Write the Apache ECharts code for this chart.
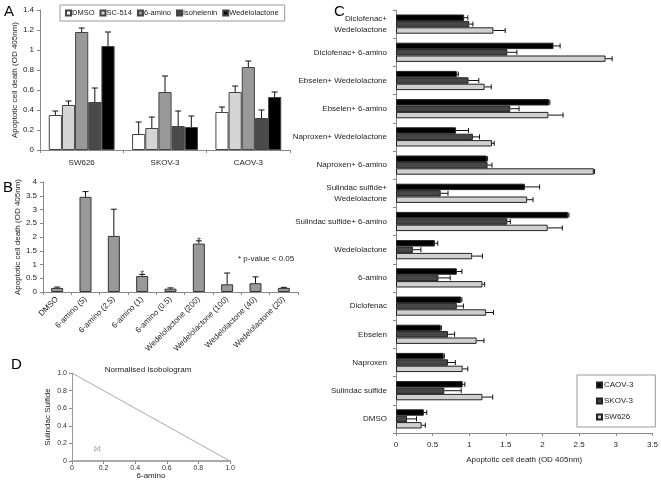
<!DOCTYPE html>
<html>
<head>
<meta charset="utf-8">
<script src="https://cdn.jsdelivr.net/npm/echarts@6/dist/echarts.min.js"></script>
<style>
  html, body { margin: 0; padding: 0; background: #fff; }
  #chart { width: 661px; height: 481px; }
</style>
</head>
<body>
<div id="chart"></div>
<script>
// ---- panel A ----
const cellLinesA = ["SW626", "SKOV-3", "CAOV-3"];
const treatA = ["DMSO", "SC-514", "6-amino", "Isohelenin", "Wedelolactone"];
const colorsA = ["#ffffff", "#d4d4d4", "#999999", "#4a4a4a", "#000000"];
const valA = [
  [0.35, 0.16, 0.38],
  [0.45, 0.22, 0.58],
  [1.18, 0.58, 0.83],
  [0.48, 0.24, 0.32],
  [1.04, 0.23, 0.53]
];
const errA = [
  [0.04, 0.12, 0.05],
  [0.04, 0.11, 0.06],
  [0.04, 0.16, 0.06],
  [0.14, 0.15, 0.08],
  [0.14, 0.11, 0.05]
];

// ---- panel B ----
const doseB = ["DMSO", "6-amino (5)", "6-amino (2.5)", "6-amino (1)", "6-amino (0.5)",
  "Wedelolactone (200)", "Wedelolactone (100)", "Wedelolactone (40)", "Wedelolactone (20)"];
const valB = [0.15, 3.46, 2.04, 0.58, 0.12, 1.76, 0.28, 0.32, 0.15];
const errB = [0.03, 0.19, 0.97, 0.06, 0.03, 0.10, 0.41, 0.23, 0.02];

// ---- panel C (bottom to top) ----
const drugC = ["DMSO", "Sulindac sulfide", "Naproxen", "Ebselen", "Diclofenac", "6-amino",
  "Wedelolactone", "Sulindac sulfide+ 6-amino", "Sulindac sulfide+\nWedelolactone",
  "Naproxen+ 6-amino", "Naproxen+ Wedelolactone", "Ebselen+ 6-amino",
  "Ebselen+ Wedelolactone", "Diclofenac+ 6-amino", "Diclofenac+\nWedelolactone"];
const linesC = ["CAOV-3", "SKOV-3", "SW626"];
const colorsC = ["#000000", "#474747", "#d0d0d0"];
const caov3 = [0.38, 0.91, 0.65, 0.61, 0.89, 0.83, 0.53, 2.35, 1.76, 1.24, 0.82, 2.09, 0.83, 2.15, 0.93];
const caov3Err = [0.04, 0.03, 0.01, 0.01, 0.01, 0.07, 0.04, 0.01, 0.20, 0.01, 0.17, 0.01, 0.02, 0.09, 0.05];
const skov3 = [0.15, 0.66, 0.71, 0.71, 0.83, 0.58, 0.23, 1.52, 0.61, 1.25, 1.05, 1.56, 0.99, 1.52, 1.00];
const skov3Err = [0.13, 0.23, 0.10, 0.09, 0.09, 0.16, 0.11, 0.04, 0.10, 0.06, 0.09, 0.12, 0.14, 0.13, 0.05];
const sw626 = [0.35, 1.18, 0.91, 1.10, 1.23, 1.18, 1.04, 2.07, 1.79, 2.70, 1.31, 2.08, 1.21, 2.86, 1.33];
const sw626Err = [0.05, 0.14, 0.07, 0.10, 0.10, 0.03, 0.14, 0.20, 0.08, 0.01, 0.03, 0.20, 0.09, 0.09, 0.16];

// ---- panel D ----
const isoLine = [[0, 1], [1, 0]];
const isoPoint = [[0.16, 0.14]];

const FONT = "Liberation Sans, Arial, sans-serif";
const TXT = "#222";
const AX = "#888";

// error bar drawn with the axes' own scale; slot = bar index inside its group
function errBars(opt) {
  return {
    type: "custom",
    xAxisIndex: opt.axis,
    yAxisIndex: opt.axis,
    z: 5,
    silent: true,
    data: opt.data,
    renderItem: function (params, api) {
      const st = { stroke: "#111", lineWidth: 1 };
      if (!opt.horizontal) {
        const cat = api.value(0), v = api.value(1), e = api.value(2);
        const p0 = api.coord([cat, v]);
        const p1 = api.coord([cat, v + e]);
        const band = api.size([1, 0])[0];
        const gw = opt.barW ? opt.barW * opt.n : band * (1 - opt.gap);
        const bw = gw / opt.n;
        const x = p0[0] - gw / 2 + bw * (opt.slot + 0.5);
        return { type: "group", children: [
          { type: "line", shape: { x1: x, y1: p0[1], x2: x, y2: p1[1] }, style: st },
          { type: "line", shape: { x1: x - opt.cap, y1: p1[1], x2: x + opt.cap, y2: p1[1] }, style: st }
        ] };
      }
      const v = api.value(0), cat = api.value(1), e = api.value(2);
      const p0 = api.coord([v, cat]);
      const p1 = api.coord([v + e, cat]);
      const band = api.size([0, 1])[1];
      const gw = band * (1 - opt.gap);
      const bw = gw / opt.n;
      const y = p0[1] - gw / 2 + bw * (opt.slot + 0.5);
      return { type: "group", children: [
        { type: "line", shape: { x1: p0[0], y1: y, x2: p1[0], y2: y }, style: st },
        { type: "line", shape: { x1: p1[0], y1: y - opt.cap, x2: p1[0], y2: y + opt.cap }, style: st }
      ] };
    }
  };
}

const series = [];

// A bars + errors
treatA.forEach((name, i) => {
  series.push({
    name: name, type: "bar", xAxisIndex: 0, yAxisIndex: 0,
    data: valA[i], barGap: "0%", barCategoryGap: "21%",
    itemStyle: { color: colorsA[i], borderColor: "#444", borderWidth: 1 }
  });
  series.push(errBars({ axis: 0, n: 5, slot: i, gap: 0.21, cap: 3,
    data: valA[i].map((v, k) => [k, v, errA[i][k]]) }));
});

// B
series.push({
  type: "bar", xAxisIndex: 1, yAxisIndex: 1, data: valB, barWidth: 12,
  itemStyle: { color: "#999999", borderColor: "#333", borderWidth: 1 }
});
series.push(errBars({ axis: 1, n: 1, slot: 0, barW: 12, cap: 3,
  data: valB.map((v, k) => [k, v, errB[k]]) }));
series.push({
  type: "scatter", xAxisIndex: 1, yAxisIndex: 1, symbolSize: 0, silent: true,
  data: [[3, valB[3] + errB[3]], [5, valB[5] + errB[5]]],
  label: { show: true, formatter: "*", position: "top", distance: -6, fontSize: 10, color: TXT, fontFamily: FONT }
});

// C
const valC = [caov3, skov3, sw626];
const errC = [caov3Err, skov3Err, sw626Err];
linesC.forEach((name, i) => {
  series.push({
    name: name, type: "bar", xAxisIndex: 2, yAxisIndex: 2,
    data: valC[i], barGap: "0%", barCategoryGap: "32%",
    itemStyle: { color: colorsC[i], borderColor: "#222", borderWidth: 1 }
  });
  series.push(errBars({ axis: 2, n: 3, slot: i, gap: 0.32, cap: 2.5, horizontal: true,
    data: valC[i].map((v, k) => [v, k, errC[i][k]]) }));
});

// D
series.push({
  type: "line", xAxisIndex: 3, yAxisIndex: 3, data: isoLine, showSymbol: false,
  lineStyle: { color: "#aaa", width: 1 }, silent: true
});
series.push({
  type: "scatter", xAxisIndex: 3, yAxisIndex: 3, data: isoPoint,
  symbol: "path://M0,0L10,10M10,0L0,10M0,0L0,10M10,0L10,10", symbolSize: 5,
  itemStyle: { color: "none", borderColor: "#888", borderWidth: 0.8 }
});

const tickLbl = { fontSize: 8, color: TXT, fontFamily: FONT };
const axLine = { lineStyle: { color: AX, width: 1 } };

const option = {
  animation: false,
  backgroundColor: "#fff",
  textStyle: { fontFamily: FONT },
  grid: [
    { left: 40, top: 10, width: 250, height: 140 },
    { left: 43, top: 182, width: 255, height: 110 },
    { left: 396, top: 10, width: 257, height: 423 },
    { left: 72, top: 373, width: 158, height: 89 }
  ],
  legend: [
    {
      data: treatA, left: 60, top: 5, orient: "horizontal",
      borderColor: "#999", borderWidth: 1, padding: [4, 6, 4, 5],
      itemWidth: 5, itemHeight: 5, itemGap: 5, icon: "rect",
      textStyle: { fontSize: 7.5, color: TXT, fontFamily: FONT, padding: [0, 0, 0, -4] }
    },
    {
      data: linesC, left: 577, top: 375, orient: "vertical",
      borderColor: "#999", borderWidth: 1, padding: [6, 22, 6, 19],
      itemWidth: 5, itemHeight: 5, itemGap: 8, icon: "rect",
      textStyle: { fontSize: 8, color: TXT, fontFamily: FONT, padding: [0, 0, 0, -3] }
    }
  ],
  xAxis: [
    {
      gridIndex: 0, type: "category", data: cellLinesA,
      axisLine: axLine, axisTick: { show: true, length: 3, lineStyle: { color: AX } },
      axisLabel: Object.assign({ margin: 9 }, tickLbl)
    },
    {
      gridIndex: 1, type: "category", data: doseB,
      axisLine: axLine, axisTick: { show: true, length: 3, lineStyle: { color: AX } },
      axisLabel: Object.assign({ margin: 6, rotate: 45, interval: 0 }, tickLbl)
    },
    {
      gridIndex: 2, type: "value", min: 0, max: 3.5, interval: 0.5,
      axisLine: { show: true, lineStyle: { color: AX } },
      axisTick: { show: true, length: 3, lineStyle: { color: AX } },
      splitLine: { show: false },
      axisLabel: Object.assign({ margin: 8 }, tickLbl),
      name: "Apoptotic cell death (OD 405nm)", nameLocation: "middle", nameGap: 23,
      nameTextStyle: { fontSize: 8, color: TXT, fontFamily: FONT }
    },
    {
      gridIndex: 3, type: "value", min: 0, max: 1, interval: 0.2,
      axisLine: { show: true, lineStyle: { color: "#aaa", width: 2 } },
      axisTick: { show: true, length: 3, lineStyle: { color: "#888" } },
      splitLine: { show: false },
      axisLabel: { fontSize: 7, color: "#333", fontFamily: FONT, margin: 3,
        formatter: v => (v === 0 ? "0" : v.toFixed(1)) },
      name: "6-amino", nameLocation: "middle", nameGap: 9,
      nameTextStyle: { fontSize: 8, color: TXT, fontFamily: FONT }
    }
  ],
  yAxis: [
    {
      gridIndex: 0, type: "value", min: 0, max: 1.4, interval: 0.2,
      axisLine: { show: true, lineStyle: { color: AX } },
      axisTick: { show: true, length: 3, lineStyle: { color: AX } },
      splitLine: { show: false },
      axisLabel: Object.assign({ margin: 6 }, tickLbl),
      name: "Apoptotic cell death (OD 405nm)", nameLocation: "middle", nameGap: 21,
      nameTextStyle: { fontSize: 8, color: TXT, fontFamily: FONT }
    },
    {
      gridIndex: 1, type: "value", min: 0, max: 4, interval: 0.5,
      axisLine: { show: true, lineStyle: { color: AX } },
      axisTick: { show: true, length: 3, lineStyle: { color: AX } },
      splitLine: { show: false },
      axisLabel: Object.assign({ margin: 6 }, tickLbl),
      name: "Apoptotic cell death (OD 405nm)", nameLocation: "middle", nameGap: 16,
      nameTextStyle: { fontSize: 8, color: TXT, fontFamily: FONT }
    },
    {
      gridIndex: 2, type: "category", data: drugC,
      axisLine: axLine, axisTick: { show: true, length: 3, lineStyle: { color: AX } },
      axisLabel: Object.assign({ margin: 9, align: "right", lineHeight: 11 }, tickLbl)
    },
    {
      gridIndex: 3, type: "value", min: 0, max: 1, interval: 0.2,
      axisLine: { show: true, lineStyle: { color: "#999", width: 1 } },
      axisTick: { show: true, length: 3, lineStyle: { color: "#888" } },
      splitLine: { show: false },
      axisLabel: { fontSize: 7, color: "#333", fontFamily: FONT, margin: 5,
        formatter: v => (v === 0 ? "0" : v.toFixed(1)) },
      name: "Sulindac Sulfide", nameLocation: "middle", nameGap: 20,
      nameTextStyle: { fontSize: 8, color: TXT, fontFamily: FONT }
    }
  ],
  graphic: [
    { type: "text", x: 4, y: 4, style: { text: "A", fontSize: 15, fill: "#000", fontFamily: FONT } },
    { type: "text", x: 3, y: 180, style: { text: "B", fontSize: 15, fill: "#000", fontFamily: FONT } },
    { type: "text", x: 334, y: 4, style: { text: "C", fontSize: 15, fill: "#000", fontFamily: FONT } },
    { type: "text", x: 11, y: 357, style: { text: "D", fontSize: 15, fill: "#000", fontFamily: FONT } },
    { type: "text", x: 238, y: 255, style: { text: "* p-value < 0.05", fontSize: 8, fill: TXT, fontFamily: FONT } },
    { type: "text", x: 148, y: 366, style: { text: "Normalised Isobologram", fontSize: 8, fill: TXT, fontFamily: FONT, textAlign: "center" } }
  ],
  series: series
};

const chart = echarts.init(document.getElementById("chart"));
chart.setOption(option);
</script>
</body>
</html>
